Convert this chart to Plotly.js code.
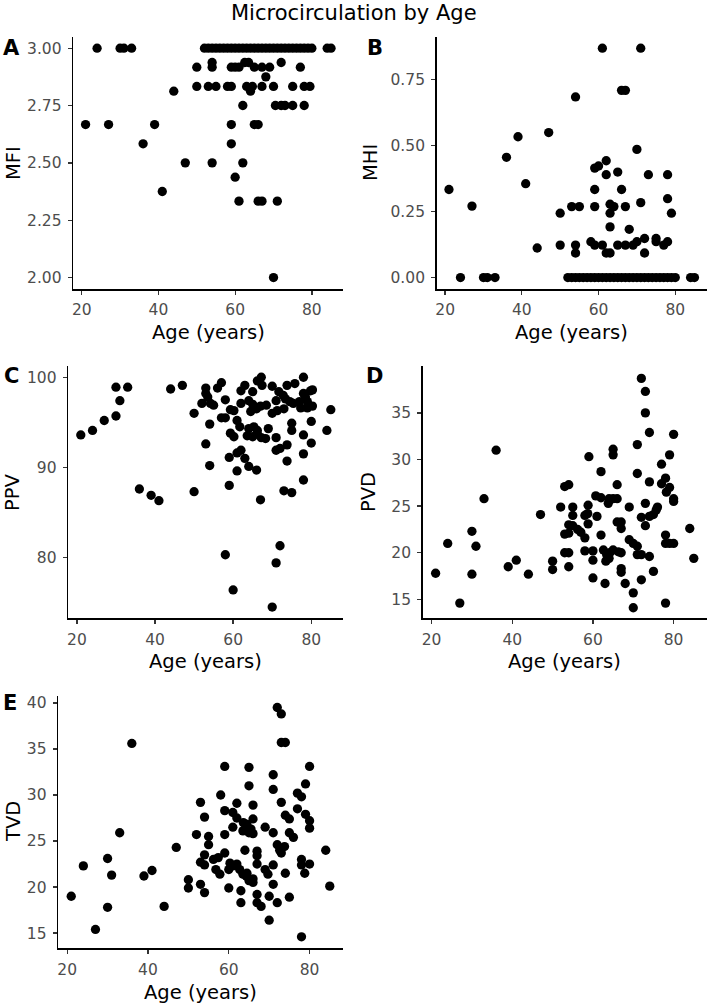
<!DOCTYPE html>
<html>
<head>
<meta charset="utf-8">
<script src="https://cdn.plot.ly/plotly-3.0.1.min.js"></script>
<style>
  html, body { margin: 0; padding: 0; background: #fff; }
  #chart { width: 709px; height: 1003px; }
</style>
</head>
<body>
<div id="chart"></div>
<script>
// ---- data: microcirculation indices against age ----
const ageTicks = [20, 40, 60, 80];

// A: microvascular flow index
const mfiAge = [24, 30, 31, 33, 52, 53, 54, 55, 56, 57, 58, 59, 60, 61, 62, 63, 64, 65, 66, 67, 68, 69, 70, 71, 72, 73, 74, 75, 76, 77, 78, 79, 80, 84, 85,
  50, 54, 59, 60, 61, 65, 67, 69, 77,
  54, 62.5, 63.5, 72,
  68,
  50, 53, 55, 58, 59, 63, 64.5, 67, 70, 75, 78, 79.5,
  44, 64,
  62, 70.5, 72, 73, 75, 78,
  21, 27, 39, 59, 65, 66,
  36, 59,
  47, 54, 62,
  60, 41,
  61, 66, 67, 71,
  70];
const mfiVal = [3, 3, 3, 3, 3, 3, 3, 3, 3, 3, 3, 3, 3, 3, 3, 3, 3, 3, 3, 3, 3, 3, 3, 3, 3, 3, 3, 3, 3, 3, 3, 3, 3, 3, 3,
  2.917, 2.917, 2.917, 2.917, 2.917, 2.917, 2.917, 2.917, 2.917,
  2.9375, 2.9375, 2.9375, 2.9375,
  2.875,
  2.833, 2.833, 2.833, 2.833, 2.833, 2.833, 2.833, 2.833, 2.833, 2.833, 2.833, 2.833,
  2.8125, 2.8125,
  2.75, 2.75, 2.75, 2.75, 2.75, 2.75,
  2.667, 2.667, 2.667, 2.667, 2.667, 2.667,
  2.583, 2.583,
  2.5, 2.5, 2.5,
  2.4375, 2.375,
  2.333, 2.333, 2.333, 2.333,
  2.0];
const mfiTicks = [2.00, 2.25, 2.50, 2.75, 3.00];

// B: microvascular heterogeneity index
const mhiAge = [61, 71, 66, 67, 54, 39, 47, 36, 70, 59, 60, 62, 62, 65, 73, 78,
  21, 41, 27, 59, 66, 50, 53, 55, 59, 63, 64, 63, 67, 71, 78, 79,
  63, 68, 44,
  50, 54, 54, 58, 59, 61, 62, 63, 65, 67, 69, 70, 72, 72, 75, 75, 77, 78,
  24, 30, 31, 33, 52, 53, 54, 55, 56, 57, 58, 59, 60, 61, 62, 63, 64, 65, 66, 67, 68, 69, 70, 71, 72, 73, 74, 75, 76, 77, 78, 79, 80, 84, 85];
const mhiVal = [0.87, 0.87, 0.71, 0.71, 0.685, 0.534, 0.55, 0.456, 0.486, 0.415, 0.423, 0.443, 0.39, 0.4, 0.39, 0.39,
  0.334, 0.356, 0.271, 0.334, 0.334, 0.244, 0.269, 0.269, 0.269, 0.278, 0.269, 0.244, 0.269, 0.284, 0.299, 0.244,
  0.192, 0.183, 0.112,
  0.123, 0.123, 0.093, 0.136, 0.123, 0.123, 0.093, 0.093, 0.123, 0.123, 0.123, 0.136, 0.148, 0.093, 0.148, 0.136, 0.123, 0.136,
  0, 0, 0, 0, 0, 0, 0, 0, 0, 0, 0, 0, 0, 0, 0, 0, 0, 0, 0, 0, 0, 0, 0, 0, 0, 0, 0, 0, 0, 0, 0, 0, 0, 0, 0];
const mhiTicks = [0.00, 0.25, 0.50, 0.75];

// C: proportion of perfused vessels
const ppvAge = [21, 24, 27, 30, 30, 33, 31, 36, 39, 41, 44, 47, 50, 50,
  53, 53, 53.5, 52, 54.2, 55, 54, 53, 54,
  56, 57, 58, 57, 58, 59.3, 60.2, 61, 61.7, 59.3, 60.2, 62, 61, 59, 63, 64, 66, 61, 59,
  62, 63, 62, 64, 65, 65, 66, 67, 64, 65.3, 66.2, 63.6, 65, 66.2, 67.2, 68.3, 66.2, 67.2, 67.4, 69, 70, 71, 71.7, 72.8, 73.4, 70, 71.3,
  71, 71, 72, 73.8, 73.8, 73.8, 75.8, 73, 74.5, 75.4, 75, 75, 78, 78, 78.5, 79, 79.8, 80.3, 77, 77.3, 79, 80.3, 78, 78, 80, 80, 78,
  73, 75, 84, 85, 67, 58, 60, 72, 71, 70, 64.5, 68.5];
const ppvVal = [93.6, 94.1, 95.2, 95.7, 98.9, 98.9, 97.4, 87.6, 86.9, 86.3, 98.7, 99.1, 96.0, 87.3,
  98.8, 98.2, 97.8, 97.1, 97.1, 96.9, 94.8, 92.6, 90.2,
  98.8, 99.4, 97.5, 95.5, 95.5, 96.4, 96.3, 95.2, 94.5, 93.8, 93.4, 91.9, 91.6, 91.1, 91.0, 90.1, 89.7, 89.6, 88.0,
  98.5, 99.1, 97.1, 97.4, 98.4, 97.0, 96.5, 96.8, 94.3, 94.5, 94.1, 93.5, 93.4, 93.7, 93.3, 93.2, 99.6, 100, 99.1, 94.3, 99.0, 97.4, 98.4, 98.0, 97.6, 96.0, 96.3,
  93.3, 91.9, 92.1, 92.5, 90.7, 99.1, 99.3, 96.5, 97.3, 97.1, 94.9, 94.1, 100, 98.2, 97.8, 97.3, 98.5, 98.6, 97.3, 96.6, 96.6, 96.8, 93.6, 91.5, 95.1, 92.7, 88.6,
  87.4, 87.2, 94.1, 96.4, 86.4, 80.3, 76.4, 81.3, 79.4, 74.5, 96.2, 96.9];
const ppvTicks = [80, 90, 100];

// D: perfused vessel density
const pvdAge = [72, 73, 73, 74, 80, 36, 71, 65, 65, 59, 79, 77, 62, 71, 78, 77, 74, 66, 53, 54, 79, 78.2, 33,
  24, 21, 27, 30, 31, 30, 39, 41, 44, 47, 50, 50, 52, 53, 54, 53, 54, 54, 55, 55, 54, 55, 56.2, 57, 58, 58, 58.7, 58.8, 58.8,
  58, 60, 60, 60, 60.7, 62, 61, 62, 62.6, 63.4, 64.2, 64, 63.2, 63, 63.8, 64, 65, 66, 65, 66.3, 67, 66, 67, 67, 67, 67, 68,
  69, 69, 70, 71, 70, 70, 71, 72, 72, 73, 73, 72, 74, 74, 75, 75.7, 76, 75, 78, 78, 79, 80, 78, 80, 80, 84, 85];
const pvdVal = [38.7, 37.3, 35.0, 32.9, 32.7, 31.0, 31.6, 31.1, 30.5, 30.3, 30.5, 29.5, 28.7, 28.5, 28.0, 27.4, 27.6, 27.3, 27.1, 27.3, 27.0, 26.5, 25.8,
  21.0, 17.8, 14.6, 22.3, 20.7, 17.7, 18.5, 19.2, 17.7, 24.1, 19.1, 18.2, 24.9, 22.0, 22.1, 20.0, 20.0, 18.5, 24.9, 24.0, 23.0, 22.9, 22.5, 22.2, 21.6, 24.0, 24.2, 25.1, 23.1,
  20.2, 20.2, 19.2, 17.3, 26.1, 25.9, 23.9, 21.9, 20.3, 19.8, 20.0, 19.4, 19.1, 16.7, 25.3, 25.8, 25.8, 25.8, 20.3, 20.1, 20.0, 23.3, 23.3, 22.6, 18.3, 17.9, 16.7,
  24.9, 21.4, 21.0, 20.7, 15.7, 14.1, 19.8, 19.8, 23.8, 25.3, 22.9, 17.1, 19.6, 23.9, 24.1, 24.6, 24.9, 18.0, 21.9, 21.0, 21.0, 21.0, 14.6, 25.8, 25.5, 22.6, 19.4];
const pvdTicks = [15, 20, 25, 30, 35];

// E: total vessel density
const tvdAge = [72, 73, 73, 74, 36, 59, 65, 80, 71, 65, 79, 71, 58, 77, 78, 53, 62, 66, 73, 59, 54, 61, 62, 63.6, 77, 79, 74, 75, 66,
  64.5, 65.5, 65, 66, 63.5, 61, 69, 80, 80, 33, 52, 55, 59, 71, 75, 76,
  21, 24, 27, 30, 31, 30, 39, 41, 44, 47, 50, 50, 55, 54, 54, 53, 53, 54, 56.2, 57.4, 56.8, 57.8, 59, 60.3, 60, 61, 62, 60,
  62.7, 63.5, 64.3, 65, 66, 64.5, 64, 63, 63, 67, 67, 67, 66, 67, 67, 68, 69, 69.7, 71, 71, 70, 70, 72, 72, 72.6, 73, 73.8,
  74, 75, 78, 78, 78.8, 80, 78, 84, 85];
const tvdVal = [39.5, 38.8, 35.7, 35.7, 35.6, 33.1, 33.0, 33.1, 32.2, 31.0, 31.2, 30.6, 30.0, 30.2, 29.8, 29.2, 29.1, 28.9, 29.2, 28.3, 27.6, 28.1, 27.5, 27.0, 28.5, 27.9, 27.8, 27.4, 27.4,
  26.8, 26.3, 25.9, 25.8, 26.1, 26.5, 26.5, 27.2, 26.4, 25.9, 25.7, 25.5, 25.7, 25.9, 25.9, 25.4,
  19.0, 22.3, 15.4, 23.1, 21.3, 17.8, 21.2, 21.8, 17.9, 24.3, 20.8, 19.9, 24.6, 23.5, 22.4, 22.7, 20.3, 19.4, 23.0, 23.2, 21.9, 21.4, 23.7, 22.6, 21.9, 22.3, 22.5, 19.9,
  21.9, 21.4, 21.2, 20.7, 20.9, 21.5, 24.0, 19.6, 18.3, 23.9, 23.4, 22.5, 20.5, 19.2, 18.3, 17.9, 21.9, 21.4, 22.4, 20.3, 19.0, 16.4, 18.3, 24.6, 24.0, 23.7, 24.4,
  21.5, 18.9, 23.0, 22.4, 21.5, 22.5, 14.6, 24.0, 20.1];
const tvdTicks = [15, 20, 25, 30, 35, 40];

// ---- figure geometry (pixels) ----
const W = 709, H = 1003;
const FONT = '"DejaVu Sans", "Liberation Sans", Arial, sans-serif';
const px = v => v / W;
const py = v => 1 - v / H;

const panels = [
  { key: '',  age: mfiAge, val: mfiVal, ticks: mfiTicks, fmt: '.2f', box: [73.3, 343.3, 36.7, 289.0], yr: [1.95, 3.05],     name: 'MFI', tag: 'A', tagPos: [11, 48],  ytPos: [14, 163],  xtY: 332 },
  { key: '2', age: mhiAge, val: mhiVal, ticks: mhiTicks, fmt: '.2f', box: [436.7, 706.7, 36.7, 289.0], yr: [-0.0435, 0.9135], name: 'MHI', tag: 'B', tagPos: [375, 48], ytPos: [371, 163], xtY: 332 },
  { key: '3', age: ppvAge, val: ppvVal, ticks: ppvTicks, fmt: 'd',   box: [68.3, 343.3, 366.0, 618.3], yr: [73.25, 101.25],  name: 'PPV', tag: 'C', tagPos: [11, 376], ytPos: [13, 492],  xtY: 661 },
  { key: '4', age: pvdAge, val: pvdVal, ticks: pvdTicks, fmt: 'd',   box: [422.7, 706.7, 366.0, 618.3], yr: [12.97, 40.03],  name: 'PVD', tag: 'D', tagPos: [375, 376], ytPos: [369, 492], xtY: 661 },
  { key: '5', age: tvdAge, val: tvdVal, ticks: tvdTicks, fmt: 'd',   box: [58.3, 342.7, 696.0, 948.3], yr: [13.35, 40.75],   name: 'TVD', tag: 'E', tagPos: [10, 703], ytPos: [13, 822],  xtY: 992 }
];

function axisStyle(extra) {
  return Object.assign({
    showline: true, linecolor: '#000', linewidth: 1.6,
    ticks: 'outside', ticklen: 4, tickwidth: 1.3, tickcolor: '#333',
    showgrid: false, zeroline: false, fixedrange: true,
    tickfont: { family: FONT, size: 15.5, color: '#4D4D4D' },
    tickmode: 'array'
  }, extra);
}

const traces = [];
const layout = {
  width: W, height: H,
  margin: { l: 0, r: 0, t: 0, b: 0 },
  paper_bgcolor: '#fff', plot_bgcolor: '#fff',
  showlegend: false,
  annotations: [{
    text: 'Microcirculation by Age', xref: 'paper', yref: 'paper',
    x: px(354), y: py(13), xanchor: 'center', yanchor: 'middle', showarrow: false,
    font: { family: FONT, size: 21, color: '#000' }
  }]
};

panels.forEach(p => {
  traces.push({
    type: 'scatter', mode: 'markers',
    x: p.age, y: p.val,
    xaxis: 'x' + p.key, yaxis: 'y' + p.key,
    marker: { color: '#000', size: 9.3, line: { width: 0 } },
    hoverinfo: 'skip'
  });
  const [l, r, t, b] = p.box;
  layout['xaxis' + p.key] = axisStyle({
    domain: [px(l), px(r)], range: [17.8, 88.2],
    anchor: 'y' + p.key, tickvals: ageTicks, ticklabelstandoff: 2
  });
  layout['yaxis' + p.key] = axisStyle({
    domain: [py(b), py(t)], range: p.yr,
    anchor: 'x' + p.key, tickvals: p.ticks, tickformat: p.fmt, ticklabelstandoff: 3
  });
  layout.annotations.push({
    text: 'Age (years)', xref: 'paper', yref: 'paper',
    x: px((l + r) / 2), y: py(p.xtY), xanchor: 'center', yanchor: 'middle', showarrow: false,
    font: { family: FONT, size: 19.5, color: '#000' }
  });
  layout.annotations.push({
    text: p.name, xref: 'paper', yref: 'paper', textangle: -90,
    x: px(p.ytPos[0]), y: py(p.ytPos[1]), xanchor: 'center', yanchor: 'middle', showarrow: false,
    font: { family: FONT, size: 19.5, color: '#000' }
  });
  layout.annotations.push({
    text: '<b>' + p.tag + '</b>', xref: 'paper', yref: 'paper',
    x: px(p.tagPos[0]), y: py(p.tagPos[1]), xanchor: 'center', yanchor: 'middle', showarrow: false,
    font: { family: FONT, size: 21, color: '#000' }
  });
});

Plotly.newPlot('chart', traces, layout, { displayModeBar: false, staticPlot: true });
</script>
</body>
</html>
